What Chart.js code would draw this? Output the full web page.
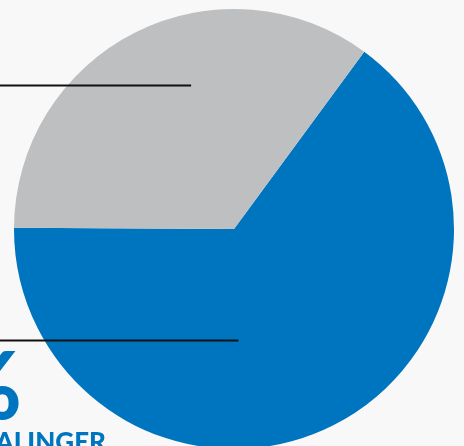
<!DOCTYPE html>
<html>
<head>
<meta charset="utf-8">
<script src="https://cdn.jsdelivr.net/npm/chart.js@4.4.1/dist/chart.umd.min.js"></script>
<style>
  html, body { margin:0; padding:0; background:#f8f8f8; overflow:hidden; }
  #wrap { position:absolute; left:0; top:0; width:464px; height:460px; }
</style>
</head>
<body>
<div id="wrap"><canvas id="c"></canvas></div>
<script>
// Data
const categories = ["BETALINGER", "ANDRE"];
const values = [65, 35];
const percentLabels = ["65 %", "35 %"];
const colors = ["#0075bf", "#bebfc1"];

// Leader-line anchors, as fractions of radius relative to pie centre (dx, dy)
const anchors = [[0.02, 0.505], [-0.195, -0.655]];

const leaderPlugin = {
  id: 'leaders',
  afterDraw(chart) {
    const ctx = chart.ctx;
    const arcs = chart.getDatasetMeta(0).data;
    ctx.save();
    arcs.forEach((arc, i) => {
      const r = arc.outerRadius;
      const ex = arc.x + anchors[i][0] * r;
      const ey = Math.round(arc.y + anchors[i][1] * r) + 0.5;
      ctx.beginPath();
      ctx.strokeStyle = '#111111';
      ctx.lineWidth = 1.8;
      ctx.moveTo(-10, ey);
      ctx.lineTo(ex, ey);
      ctx.stroke();
      // labels placed to the left of the pie
      ctx.fillStyle = colors[0];
      ctx.textAlign = 'right';
      ctx.textBaseline = 'alphabetic';
      const px = i === 0 ? 22 : -40;
      const cx = i === 0 ? 106 : -40;
      ctx.font = '900 94px Lato';
      ctx.fillText(percentLabels[i], px, ey + 78);
      ctx.font = '900 26px Lato';
      ctx.fillText(categories[i], cx, ey + 110);
    });
    ctx.restore();
  }
};

new Chart(document.getElementById('c'), {
  type: 'pie',
  data: {
    labels: categories,
    datasets: [{
      data: values,
      backgroundColor: colors,
      borderWidth: 0
    }]
  },
  options: {
    responsive: true,
    maintainAspectRatio: false,
    animation: false,
    rotation: 36.3,
    layout: { padding: { left: 14, right: 10, top: 9, bottom: 11 } },
    plugins: { legend: { display: false }, tooltip: { enabled: false } }
  },
  plugins: [leaderPlugin]
});
</script>
</body>
</html>
